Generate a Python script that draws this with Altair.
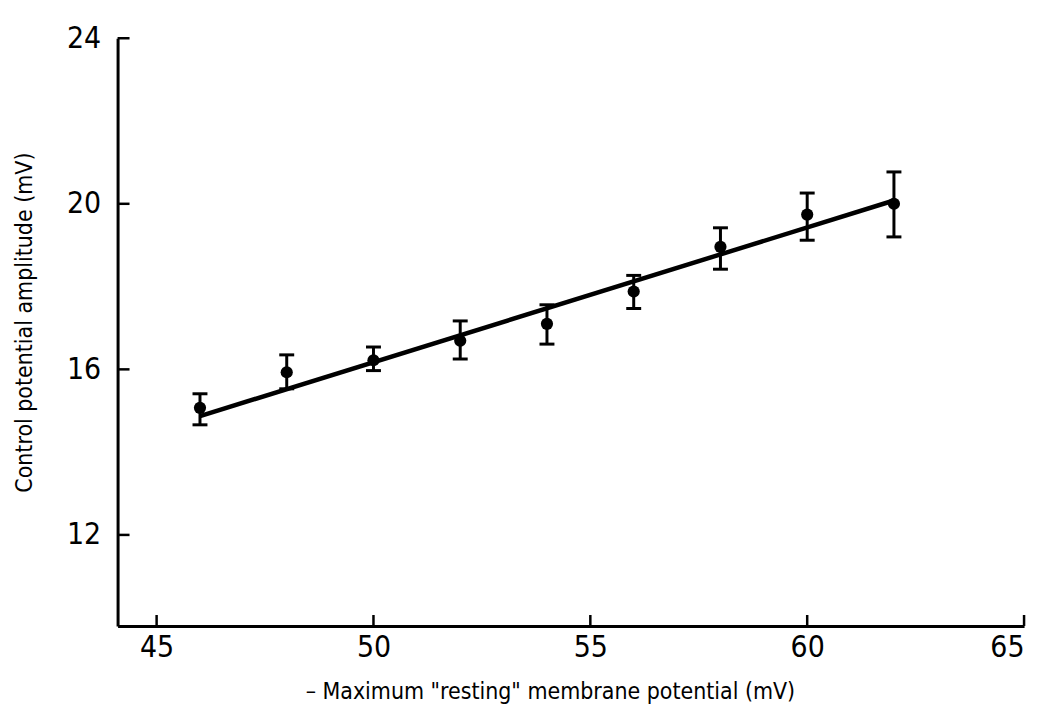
import altair as alt
import pandas as pd

# data
potential = [46, 48, 50, 52, 54, 56, 58, 60, 62]
amplitude = [15.07, 15.93, 16.22, 16.69, 17.10, 17.88, 18.96, 19.74, 20.00]
err_hi = [15.41, 16.35, 16.54, 17.17, 17.56, 18.27, 19.42, 20.26, 20.77]
err_lo = [14.66, 15.53, 15.97, 16.25, 16.61, 17.47, 18.42, 19.12, 19.20]

fit_x = [46, 62]
fit_y = [14.87, 20.08]

x_ticks = [45, 50, 55, 60, 65]
y_ticks = [12, 16, 20, 24]

df = pd.DataFrame({"x": potential, "y": amplitude, "hi": err_hi, "lo": err_lo})
fit = pd.DataFrame({"x": fit_x, "y": fit_y})
xt = pd.DataFrame({"v": x_ticks})
yt = pd.DataFrame({"v": y_ticks})

W, H = 910, 590
FONT = "DejaVu Sans Condensed, Roboto Condensed, Liberation Sans Narrow, sans-serif"

xs = alt.Scale(domain=[44.1, 65], nice=False, zero=False)
ys = alt.Scale(domain=[9.8, 24], nice=False, zero=False)

xaxis = alt.Axis(
    values=x_ticks, format="d", grid=False, ticks=False, domain=True,
    domainColor="black", domainWidth=3, labelFont=FONT, labelFontSize=30,
    labelColor="black", labelPadding=7, title='– Maximum "resting" membrane potential (mV)',
    titleFont=FONT, titleFontSize=23, titleFontWeight="normal", titleColor="black",
    titleX=434, titleY=66, titleBaseline="middle", titleAlign="center",
)
yaxis = alt.Axis(
    values=y_ticks, format="d", grid=False, ticks=False, domain=True,
    domainColor="black", domainWidth=3, labelFont=FONT, labelFontSize=30,
    labelColor="black", labelPadding=17, title="Control potential amplitude (mV)",
    titleFont=FONT, titleFontSize=23, titleFontWeight="normal", titleColor="black",
    titleX=-93, titleY=285, titleAngle=-90, titleBaseline="middle", titleAlign="center",
)

base = alt.Chart(df)

axes_layer = base.mark_point(opacity=0).encode(
    x=alt.X("x:Q", scale=xs, axis=xaxis),
    y=alt.Y("y:Q", scale=ys, axis=yaxis),
)

xtick_layer = alt.Chart(xt).mark_rule(color="black", strokeWidth=2.5).encode(
    x=alt.X("v:Q", scale=xs),
    y=alt.value(H),
    y2=alt.value(H - 11),
)
ytick_layer = alt.Chart(yt).mark_rule(color="black", strokeWidth=2.5).encode(
    y=alt.Y("v:Q", scale=ys),
    x=alt.value(0),
    x2=alt.value(12),
)

bars = base.mark_rule(color="black", strokeWidth=3).encode(
    x=alt.X("x:Q", scale=xs),
    y=alt.Y("lo:Q", scale=ys),
    y2="hi:Q",
)
cap_hi = base.mark_tick(color="black", thickness=3, size=15, orient="horizontal", opacity=1).encode(
    x=alt.X("x:Q", scale=xs), y=alt.Y("hi:Q", scale=ys)
)
cap_lo = base.mark_tick(color="black", thickness=3, size=15, orient="horizontal", opacity=1).encode(
    x=alt.X("x:Q", scale=xs), y=alt.Y("lo:Q", scale=ys)
)
dots = base.mark_circle(color="black", size=150, opacity=1).encode(
    x=alt.X("x:Q", scale=xs), y=alt.Y("y:Q", scale=ys)
)
line = alt.Chart(fit).mark_line(color="black", strokeWidth=4.5).encode(
    x=alt.X("x:Q", scale=xs), y=alt.Y("y:Q", scale=ys)
)

chart = alt.layer(
    axes_layer, xtick_layer, ytick_layer, line, bars, cap_hi, cap_lo, dots
).properties(
    width=W, height=H,
    autosize=alt.AutoSizeParams(type="none"),
    padding={"left": 110, "top": 29, "right": 15, "bottom": 85},
    background="white",
).configure_view(stroke=None)

chart.save("out.html", embed_options={"renderer": "svg", "actions": False})
